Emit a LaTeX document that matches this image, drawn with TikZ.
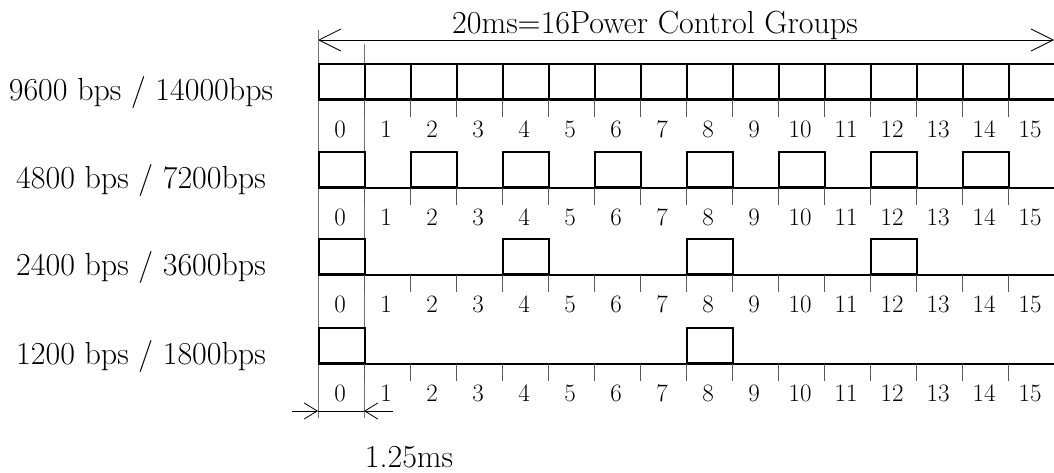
\documentclass[tikz,border=0pt]{standalone}
\usepackage{tikz}
\usetikzlibrary{arrows.meta, positioning}

\begin{document}
\begin{tikzpicture}[x=1pt, y=-1pt,
            slotbox/.style={draw, line width=2.4pt, inner sep=0pt, minimum width=46pt, minimum height=35pt, anchor=south west},
            axisline/.style={line width=2pt},
            tickline/.style={line width=0.9pt, black!65},
            guideline/.style={line width=0.9pt, black!55},
            ratelabel/.style={inner sep=0pt, anchor=base, font=\fontsize{32}{34}\selectfont},
            slotnum/.style={inner sep=0pt, anchor=base, font=\fontsize{25}{27}\selectfont},
            barb/.style={line width=0.8pt}]
            \useasboundingbox (0,0) rectangle (1054,472);

            \node[ratelabel] (span) at (655,33) {20ms=16Power Control Groups};
            \coordinate (spanL) at (318,40);
            \coordinate (spanR) at (1054,40);
            \draw[barb, {Straight Barb[length=22pt, width=22pt]}-{Straight Barb[length=22pt, width=22pt]}] (spanL) -- (spanR);

            \draw[guideline] (318,30) -- (318,418);
            \draw[guideline] (364,44) -- (364,418);

            \foreach \row/\base/\every/\rate in {1/100/1/{9600 bps / 14000bps}, 2/188/2/{4800 bps / 7200bps}, 3/275/4/{2400 bps / 3600bps}, 4/364/8/{1200 bps / 1800bps}} {
                \node[ratelabel] (rate\row) at (141,\base) {\rate};
                \draw[axisline] (318,\base) -- (1054,\base);
                \foreach \i in {0,...,15} {
                    \pgfmathtruncatemacro{\hit}{mod(\i,\every)==0}
                    \ifnum\hit=1
                        \node[slotbox] (box-\row-\i) at (318+46*\i,\base) {};
                    \fi
                    \node[slotnum] (num-\row-\i) at (340+46*\i,\base+37.5) {\i};
                }
                \foreach \k in {1,...,15}
                    \draw[tickline] (318+46*\k,\base) -- (318+46*\k,\base+17);
            }

            \coordinate (dimL) at (292,411);
            \coordinate (dimA) at (318,411);
            \coordinate (dimB) at (364,411);
            \coordinate (dimR) at (393,411);
            \draw[barb] (dimA) -- (dimB);
            \draw[barb, -{Straight Barb[length=13pt, width=16pt]}] (dimL) -- (dimA);
            \draw[barb, -{Straight Barb[length=13pt, width=16pt]}] (dimR) -- (dimB);
            \node[ratelabel] (slotlen) at (409,467) {1.25ms};
        \end{tikzpicture}
\end{document}
